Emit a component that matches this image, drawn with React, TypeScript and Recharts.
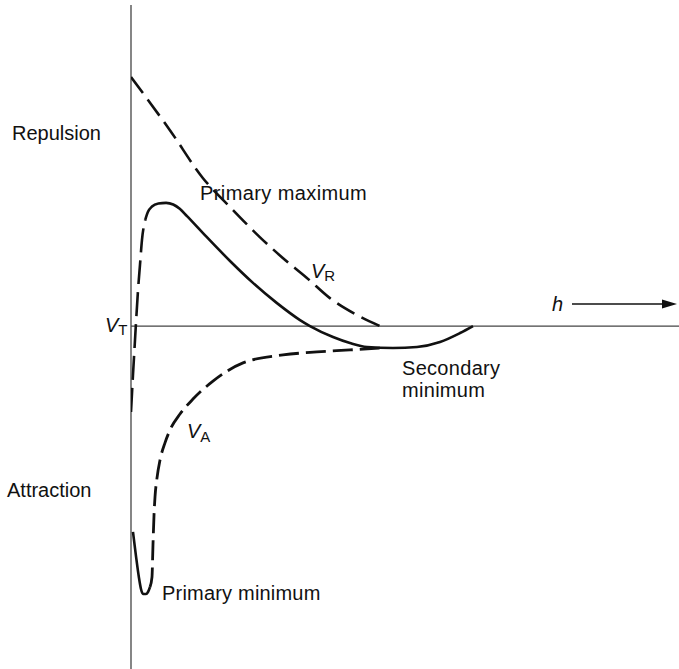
import React from "react";
import { LineChart, Line, XAxis, YAxis, ReferenceLine } from "recharts";

// Separation distance h (0..100 arbitrary units) and potential V (arbitrary units)
const H_R = [0, 3.5, 7.1, 13.1, 18.1, 23.5, 27.7, 32.1, 36.3, 40.9, 45.4];
const V_R = [75.0, 67.2, 59.0, 44.6, 35.8, 26.8, 20.5, 14.5, 8.4, 3.6, 0];

// total potential: steep (dashed) rising branch near contact
const H_T_RISE = [0, 0.36, 0.73, 0.91, 1.28, 1.64, 2.0, 2.6];
const V_T_RISE = [-25.9, -14.8, -4.2, 0.9, 10.8, 18.4, 25.9, 32.0];

// total potential: solid part (primary maximum, secondary minimum)
const H_T = [2.6, 3.1, 3.83, 5.0, 6.4, 7.7, 8.9, 10.22, 13.14, 18.07, 22.26, 26.64, 30.84, 32.66, 36.86, 39.96, 43.07, 47.81, 52.19, 56.39, 60.04, 62.41];
const V_T = [32.0, 34.4, 36.0, 36.9, 37.1, 36.6, 35.3, 33.1, 28.0, 19.6, 13.0, 6.9, 1.8, 0, -3.3, -5.1, -6.3, -6.6, -6.3, -4.8, -2.1, 0];

// primary minimum well (solid)
const H_MIN = [0.36, 0.91, 1.46, 1.82, 2.19, 2.74, 3.1, 3.47];
const V_MIN = [-62.0, -69.3, -75.9, -79.2, -80.7, -80.7, -80.1, -78.6];

// attraction V_A (dashed)
const H_A = [3.47, 3.83, 4.01, 4.2, 4.38, 4.74, 5.29, 6.2, 7.12, 8.94, 11.31, 14.96, 20.44, 27.74, 33.94, 39.96, 45.44];
const V_A = [-78.6, -75.6, -66.0, -56.9, -51.5, -45.8, -40.4, -35.2, -31.3, -26.5, -22.0, -16.6, -11.1, -8.7, -7.8, -7.2, -6.6];

const zip = (hs: number[], vs: number[]) => hs.map((h, i) => ({ h, v: vs[i] }));

const dataR = zip(H_R, V_R);
const dataTRise = zip(H_T_RISE, V_T_RISE);
const dataT = zip(H_T, V_T);
const dataMin = zip(H_MIN, V_MIN);
const dataA = zip(H_A, V_A);

const FONT = '"Liberation Sans", Arial, Helvetica, sans-serif';

export default function App() {
  const common = {
    type: "monotone" as const,
    dataKey: "v",
    dot: false,
    activeDot: false,
    isAnimationActive: false,
    stroke: "#111",
    legendType: "none" as const,
  };
  return (
    <div style={{ position: "absolute", left: 0, top: 0, width: 679, height: 669, background: "#fff" }}>
      <LineChart width={679} height={669} margin={{ top: 5, right: 0, bottom: 0, left: 131 }}>
        <XAxis type="number" dataKey="h" domain={[0, 100]} hide allowDataOverflow />
        <YAxis type="number" domain={[-103.3, 96.7]} hide allowDataOverflow />
        <ReferenceLine x={0} stroke="#444" strokeWidth={1.3} />
        <ReferenceLine y={0} stroke="#444" strokeWidth={1.3} />
        <Line {...common} data={dataR} strokeWidth={2.6} strokeDasharray="20 8" />
        <Line {...common} data={dataTRise} strokeWidth={2.6} strokeDasharray="24 8" />
        <Line {...common} data={dataT} strokeWidth={2.6} />
        <Line {...common} data={dataMin} strokeWidth={2.6} />
        <Line {...common} data={dataA} strokeWidth={2.8} strokeDasharray="20 7" />
      </LineChart>
      <svg
        width={679}
        height={669}
        style={{ position: "absolute", left: 0, top: 0, pointerEvents: "none" }}
        fontFamily={FONT}
        fontSize={20}
        fill="#111"
      >
        <text x={12} y={140}>Repulsion</text>
        <text x={7} y={497}>Attraction</text>
        <text x={200} y={200} letterSpacing={0.4}>Primary maximum</text>
        <text x={162} y={600} letterSpacing={0.2}>Primary minimum</text>
        <text x={402} y={375} letterSpacing={0.3}>Secondary</text>
        <text x={402} y={397} letterSpacing={0.3}>minimum</text>
        <text x={105} y={332}>
          <tspan fontStyle="italic">V</tspan>
          <tspan fontSize={15} dy={3}>T</tspan>
        </text>
        <text x={311} y={278}>
          <tspan fontStyle="italic">V</tspan>
          <tspan fontSize={15} dy={3}>R</tspan>
        </text>
        <text x={187} y={438}>
          <tspan fontStyle="italic">V</tspan>
          <tspan fontSize={15} dy={4}>A</tspan>
        </text>
        <text x={552} y={311} fontStyle="italic">h</text>
        <line x1={572} y1={304} x2={665} y2={304} stroke="#111" strokeWidth={1.4} />
        <polygon points="662,299.5 677,304 662,308.5" fill="#111" />
      </svg>
    </div>
  );
}
